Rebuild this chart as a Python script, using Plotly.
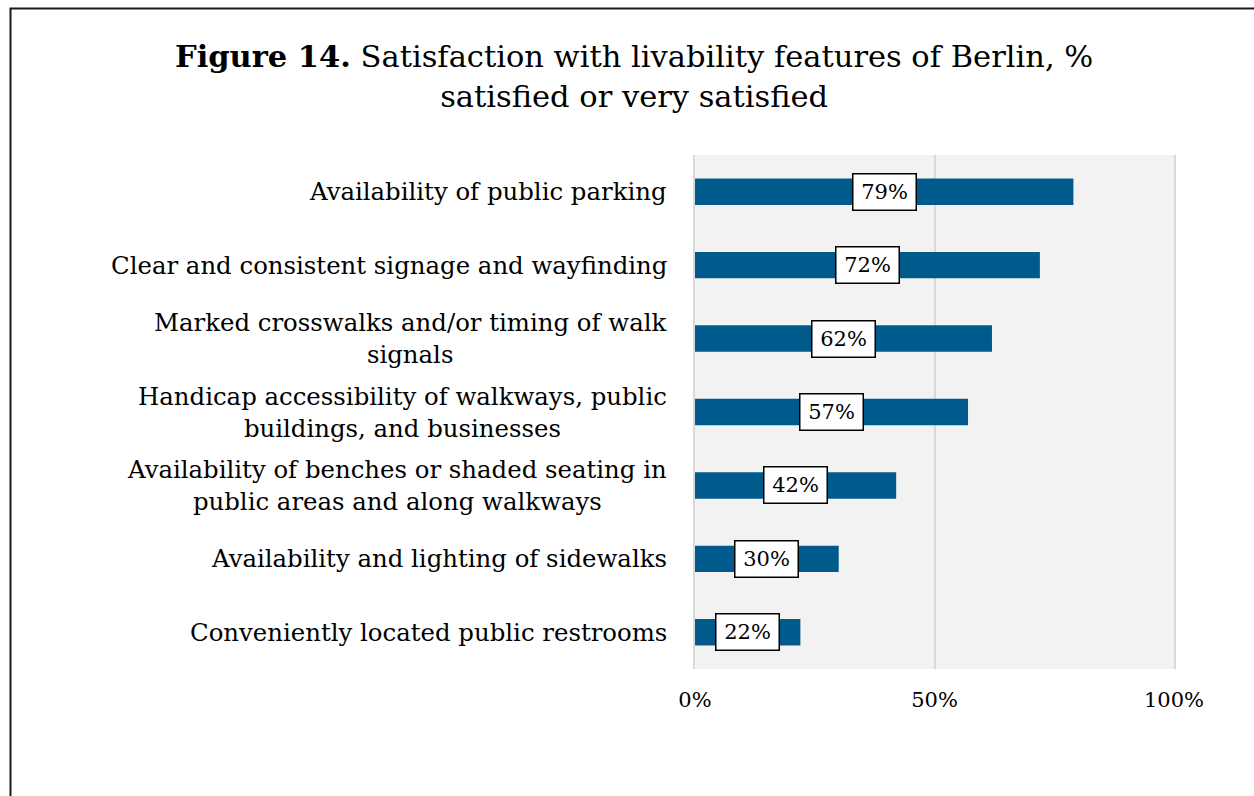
import plotly.graph_objects as go

categories = [
    "Availability of public parking",
    "Clear and consistent signage and wayfinding",
    "Marked crosswalks and/or timing of walk<br>signals",
    "Handicap accessibility of walkways, public<br>buildings, and businesses",
    "Availability of benches or shaded seating in<br>public areas and along walkways",
    "Availability and lighting of sidewalks",
    "Conveniently located public restrooms",
]
values = [79, 72, 62, 57, 42, 30, 22]
tick_vals = [0, 50, 100]
tick_text = ["0%", "50%", "100%"]

FONT = "DejaVu Serif"
BAR_COLOR = "#005B8C"
GRID = "#D9D9D9"

W, H = 1254, 796
L, R, T, B = 695, 80, 155, 127
pw, ph = W - L - R, H - T - B

fig = go.Figure()
fig.add_trace(go.Bar(
    x=values,
    y=list(range(len(categories))),
    orientation="h",
    marker=dict(color=BAR_COLOR, line=dict(width=0)),
    width=0.36,
    hoverinfo="skip",
))

annotations = []
# value labels in white boxes, centred on each bar
for i, v in enumerate(values):
    annotations.append(dict(
        x=v / 2, y=i, xref="x", yref="y",
        text=f"{v}%", showarrow=False,
        font=dict(family=FONT, size=21, color="black"),
        bgcolor="white", bordercolor="black", borderwidth=1.5, borderpad=4,
        width=54, height=27,
        xanchor="center", yanchor="middle",
    ))
# category labels, right-aligned to the axis, lines centred within each label
for i, c in enumerate(categories):
    annotations.append(dict(
        x=0, y=i, xref="paper", yref="y",
        text=c, showarrow=False, xshift=-26,
        font=dict(family=FONT, size=24.4, color="black"),
        xanchor="right", yanchor="middle", align="center",
    ))
# two-line title centred above the chart
annotations.append(dict(
    x=(634 - L) / pw, y=(H - B - 36) / ph, xref="paper", yref="paper",
    text="<b>Figure 14.</b> Satisfaction with livability features of Berlin, %<br>satisfied or very satisfied",
    showarrow=False, font=dict(family=FONT, size=30.5, color="black"),
    xanchor="center", yanchor="top", align="center",
))

fig.update_layout(
    width=W, height=H,
    margin=dict(l=L, r=R, t=T, b=B),
    paper_bgcolor="white",
    plot_bgcolor="#F2F2F2",
    showlegend=False,
    annotations=annotations,
    xaxis=dict(
        range=[0, 100], tickvals=tick_vals, ticktext=tick_text,
        showgrid=True, gridcolor=GRID, gridwidth=1.5,
        zeroline=False, showline=False,
        ticks="", ticklabelstandoff=16,
        tickfont=dict(family=FONT, size=21, color="black"),
        fixedrange=True,
    ),
    yaxis=dict(
        range=[len(categories) - 0.5, -0.5],
        showticklabels=False, showgrid=False, zeroline=False,
        showline=True, mirror=True, linecolor=GRID, linewidth=1.5,
        fixedrange=True,
    ),
    shapes=[dict(
        type="rect", xref="paper", yref="paper",
        x0=(10.5 - L) / pw, x1=(W + 20 - L) / pw,
        y0=(H - B - (H + 20)) / ph, y1=(H - B - 8.5) / ph,
        line=dict(color="#1a1a1a", width=2), fillcolor="rgba(0,0,0,0)",
        layer="below",
    )],
)

fig.write_html("out.html")
